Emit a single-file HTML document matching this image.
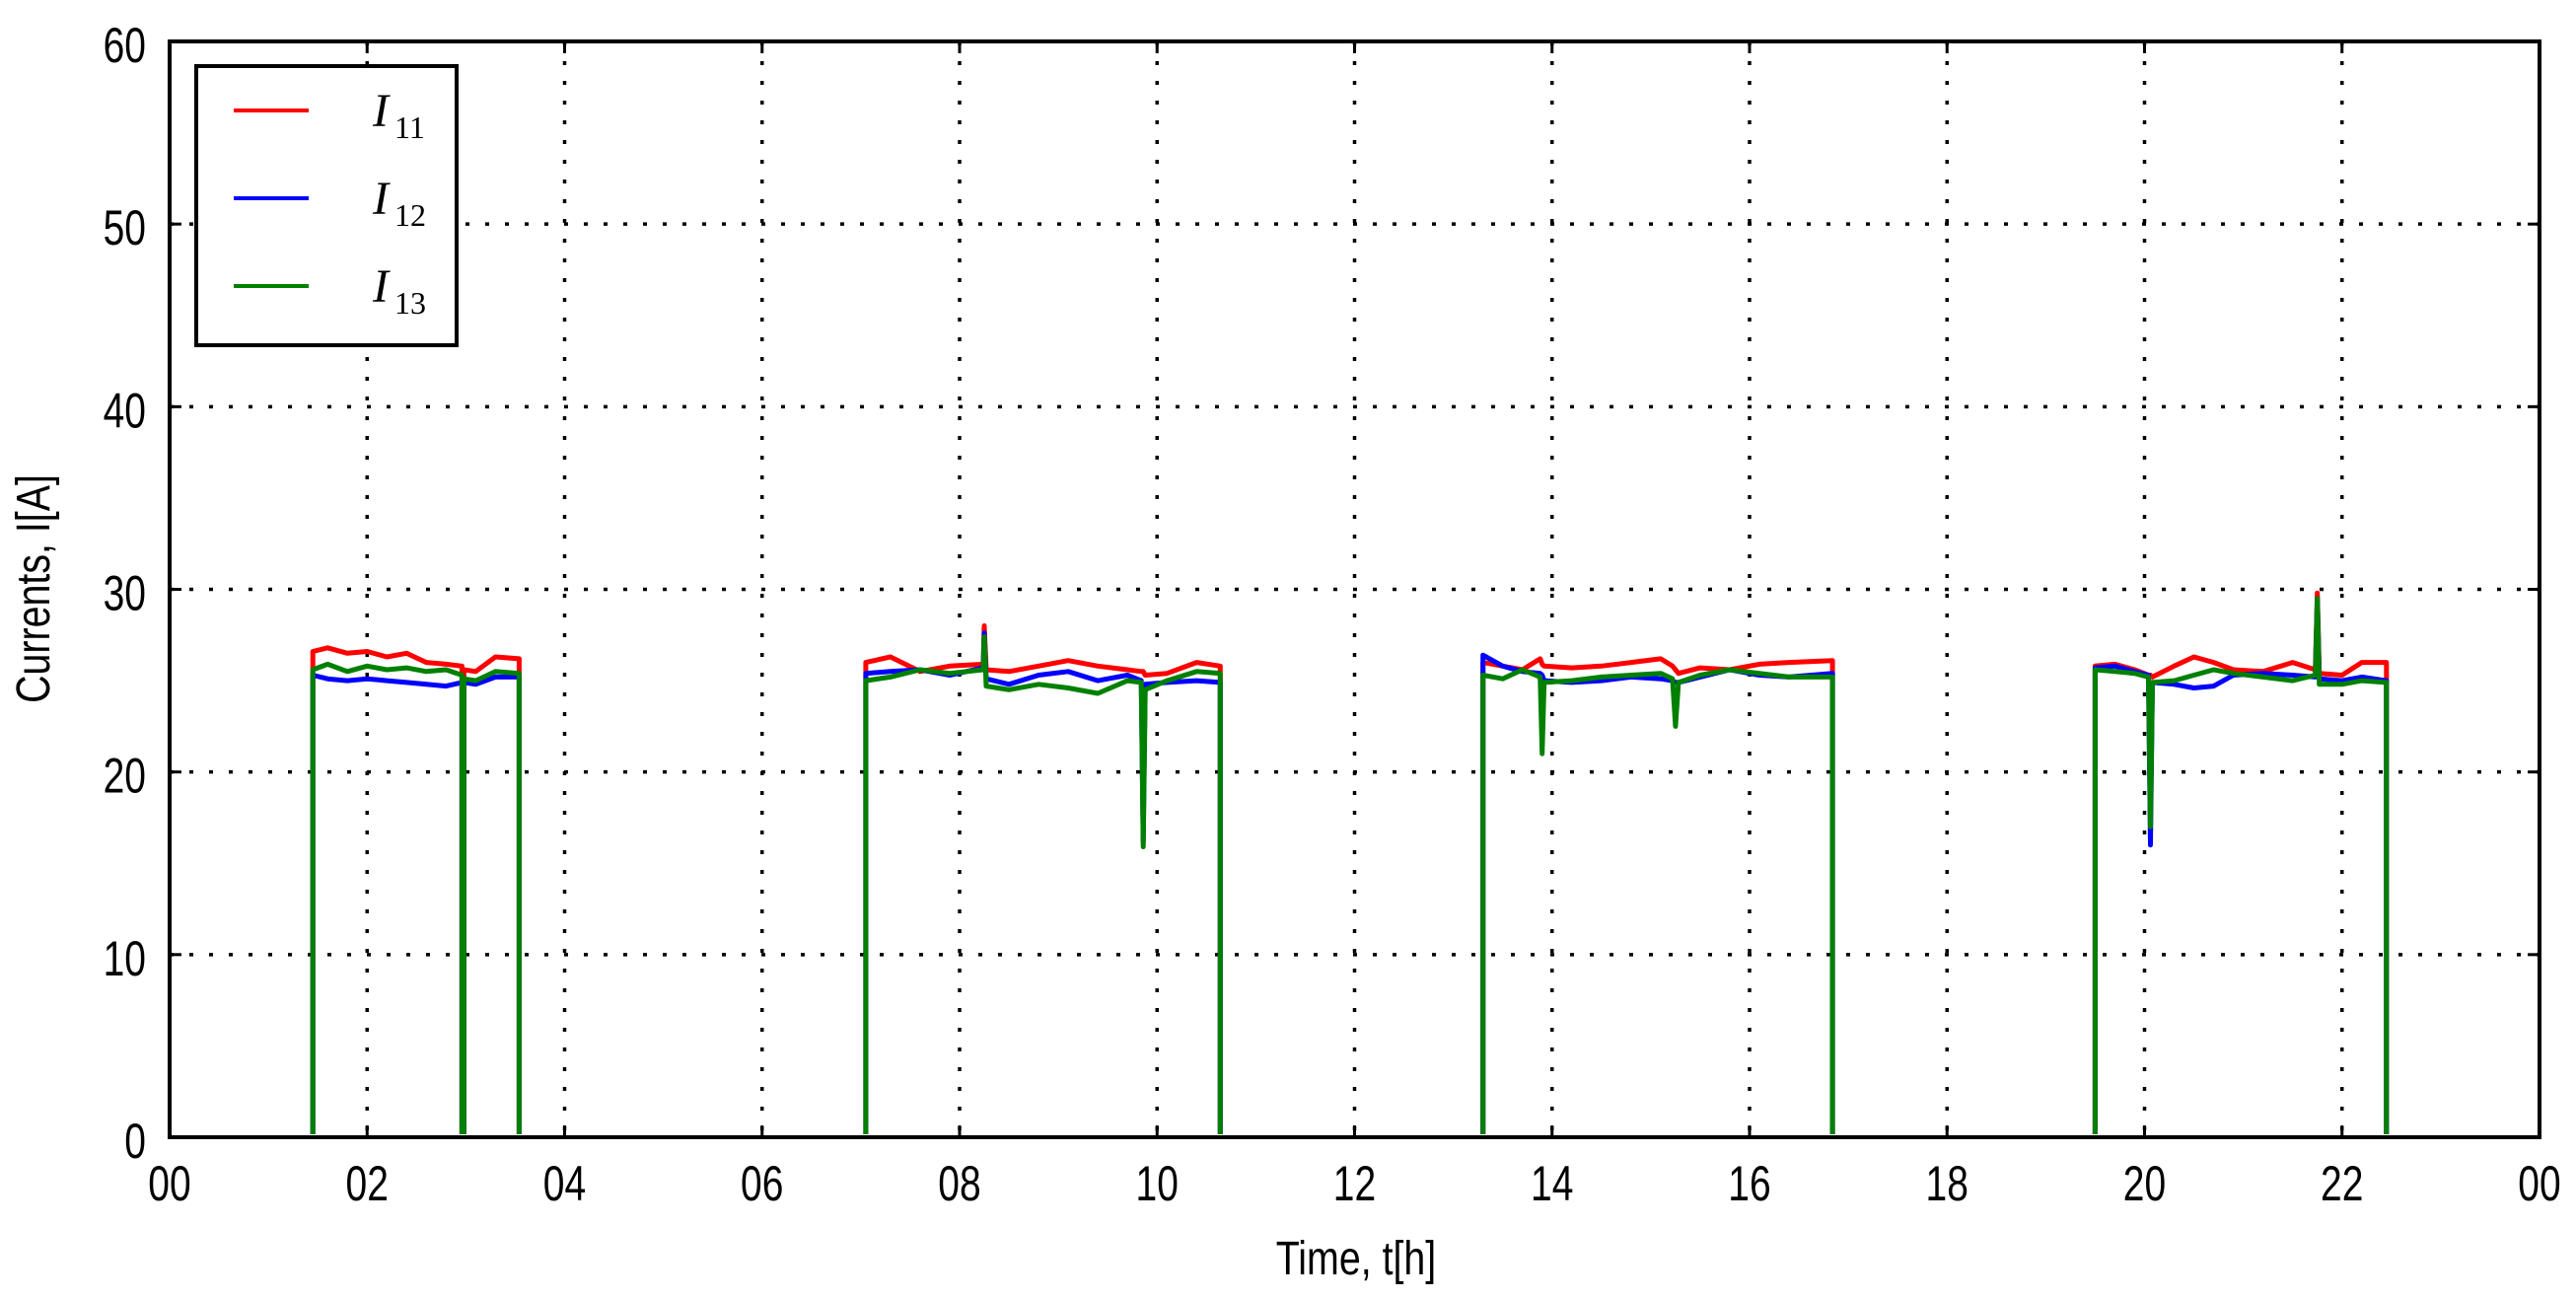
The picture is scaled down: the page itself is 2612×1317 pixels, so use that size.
<!DOCTYPE html>
<html><head><meta charset="utf-8"><style>
html,body{margin:0;padding:0;background:#fff;}
svg{display:block;}
text{font-family:"Liberation Sans",sans-serif;fill:#000;}
</style></head><body>
<svg id="chart" width="2612" height="1317" viewBox="0 0 2612 1317" xmlns="http://www.w3.org/2000/svg">
<defs><clipPath id="plotclip"><rect x="172" y="42" width="2403" height="1108"/></clipPath></defs>
<rect x="0" y="0" width="2612" height="1317" fill="#fff"/>
<g id="grid"></g>
<g id="series" clip-path="url(#plotclip)"></g>
<g id="axes"></g>
<text x="1375" y="1292" font-size="48" text-anchor="middle" transform="translate(1375 0) scale(0.82 1) translate(-1375 0)">Time, t[h]</text>
<text x="0" y="0" font-size="48" text-anchor="middle" transform="translate(50 597) rotate(-90) scale(0.82 1)">Currents, I[A]</text>
<g>
<rect x="199" y="67" width="264" height="283" fill="#fff" stroke="#000" stroke-width="4"/>
<g><line x1="237" y1="112" x2="313" y2="112" stroke="#ff0000" stroke-width="4"/><text x="378" y="128" font-style="italic" font-size="48" style="font-family:'Liberation Serif',serif">I</text><text x="400" y="140" font-size="32" style="font-family:'Liberation Serif',serif">11</text></g>
<g><line x1="237" y1="201" x2="313" y2="201" stroke="#0000ff" stroke-width="4"/><text x="378" y="217" font-style="italic" font-size="48" style="font-family:'Liberation Serif',serif">I</text><text x="400" y="229" font-size="32" style="font-family:'Liberation Serif',serif">12</text></g>
<g><line x1="237" y1="290" x2="313" y2="290" stroke="#008000" stroke-width="4"/><text x="378" y="306" font-style="italic" font-size="48" style="font-family:'Liberation Serif',serif">I</text><text x="400" y="318" font-size="32" style="font-family:'Liberation Serif',serif">13</text></g>
</g>
</svg>
<script>
const xTicks = [0,2,4,6,8,10,12,14,16,18,20,22,24];
const xTickLabels = ["00","02","04","06","08","10","12","14","16","18","20","22","00"];
const yTicks = [0,10,20,30,40,50,60];
const seriesNames = ["I11","I12","I13"];
const times = [0,1.45,1.45,1.6,1.8,2.0,2.2,2.4,2.6,2.8,2.96,2.96,2.98,2.98,3.1,3.3,3.54,3.54,
 7.05,7.05,7.3,7.6,7.9,8.24,8.25,8.27,8.5,8.8,9.1,9.4,9.7,9.84,9.86,9.88,10.1,10.4,10.64,10.64,
 13.3,13.3,13.5,13.7,13.88,13.9,13.92,14.2,14.5,14.8,15.1,15.22,15.25,15.28,15.5,15.8,16.1,16.4,16.84,16.84,
 19.5,19.5,19.7,19.9,20.04,20.06,20.08,20.3,20.5,20.7,20.9,21.2,21.5,21.73,21.75,21.77,22.0,22.2,22.45,22.45,24];
const i11 = [0,0,26.6,26.8,26.5,26.6,26.3,26.5,26.0,25.9,25.8,0,0,25.6,25.5,26.3,26.2,0,
 0,26.0,26.3,25.5,25.8,25.9,28.0,25.6,25.5,25.8,26.1,25.8,25.6,25.5,25.5,25.3,25.4,26.0,25.8,0,
 0,26.0,25.8,25.6,26.2,25.9,25.8,25.7,25.8,26.0,26.2,25.8,25.6,25.4,25.7,25.6,25.9,26.0,26.1,0,
 0,25.8,25.9,25.6,25.3,25.3,25.2,25.8,26.3,26.0,25.6,25.5,26.0,25.6,29.8,25.4,25.3,26.0,26.0,0,0];
const i12 = [0,0,25.3,25.1,25.0,25.1,25.0,24.9,24.8,24.7,24.9,0,0,24.9,24.8,25.2,25.2,0,
 0,25.4,25.5,25.6,25.3,25.7,27.6,25.1,24.8,25.3,25.5,25.0,25.3,25.0,16.2,24.8,24.9,25.0,24.9,0,
 0,26.4,25.8,25.5,25.4,25.3,25.0,24.9,25.0,25.2,25.1,25.0,24.9,24.9,25.2,25.6,25.3,25.2,25.4,0,
 0,25.7,25.8,25.5,25.3,16.0,24.9,24.8,24.6,24.7,25.3,25.4,25.3,25.2,29.5,25.1,25.0,25.2,25.0,0,0];
const i13 = [0,0,25.6,25.9,25.5,25.8,25.6,25.7,25.5,25.6,25.3,0,0,25.1,25.0,25.5,25.4,0,
 0,25.0,25.2,25.6,25.4,25.6,27.4,24.7,24.5,24.8,24.6,24.3,25.0,24.9,15.9,24.5,25.0,25.5,25.4,0,
 0,25.3,25.1,25.6,25.2,21.0,24.9,25.0,25.2,25.3,25.4,25.1,22.5,24.9,25.3,25.6,25.4,25.2,25.2,0,
 0,25.6,25.5,25.4,25.2,17.0,24.9,25.0,25.3,25.6,25.4,25.2,25.0,25.3,29.5,24.8,24.8,25.0,24.9,0,0];

const NS='http://www.w3.org/2000/svg';
const L=172,R=2575,T=42,B=1153;
const xS=h=>L+(h/24)*(R-L);
const yS=v=>B-(v/60)*(B-T);
function mk(tag,attrs,parent){const e=document.createElementNS(NS,tag);for(const k in attrs)e.setAttribute(k,attrs[k]);parent.appendChild(e);return e;}
const grid=document.getElementById('grid'),axes=document.getElementById('axes'),ser=document.getElementById('series');
xTicks.forEach((t,i)=>{
  const x=xS(t);
  if(i>0&&i<xTicks.length-1){const g=mk('line',{x1:x,y1:T,x2:x,y2:B,stroke:'#000','stroke-width':3.5,'stroke-dasharray':'4 16'},grid);
  
  }
  mk('line',{x1:x,y1:B,x2:x,y2:B-12,stroke:'#000','stroke-width':3},axes);
  mk('line',{x1:x,y1:T,x2:x,y2:T+12,stroke:'#000','stroke-width':3},axes);
  const tx=mk('text',{x:x,y:1217,'font-size':50,'text-anchor':'middle',transform:`translate(${x} 0) scale(0.78 1) translate(${-x} 0)`},axes);
  tx.textContent=xTickLabels[i];
  
  
});
yTicks.forEach((v,i)=>{
  const y=yS(v);
  if(i>0&&i<yTicks.length-1){const g=mk('line',{x1:L,y1:y,x2:R,y2:y,stroke:'#000','stroke-width':3.5,'stroke-dasharray':'4 16'},grid);
  
  }
  mk('line',{x1:L,y1:y,x2:L+12,y2:y,stroke:'#000','stroke-width':3},axes);
  mk('line',{x1:R,y1:y,x2:R-12,y2:y,stroke:'#000','stroke-width':3},axes);
  const tx=mk('text',{x:148,y:y+21,'font-size':50,'text-anchor':'end',transform:`translate(148 0) scale(0.78 1) translate(-148 0)`},axes);
  tx.textContent=String(v);
  
  
});
const frame=mk('rect',{x:L,y:T,width:R-L,height:B-T,fill:'none',stroke:'#000','stroke-width':4},axes);


const data=[i11,i12,i13],cols=['#ff0000','#0000ff','#008000'];
data.forEach((vals,k)=>{
  const d=times.map((t,i)=>(i?'L':'M')+xS(t).toFixed(1)+' '+yS(vals[i]).toFixed(1)).join(' ');
  const p=mk('path',{d:d,fill:'none',stroke:cols[k],'stroke-width':5,'stroke-linejoin':'round'},ser);
  
  
});
</script>
</body></html>
